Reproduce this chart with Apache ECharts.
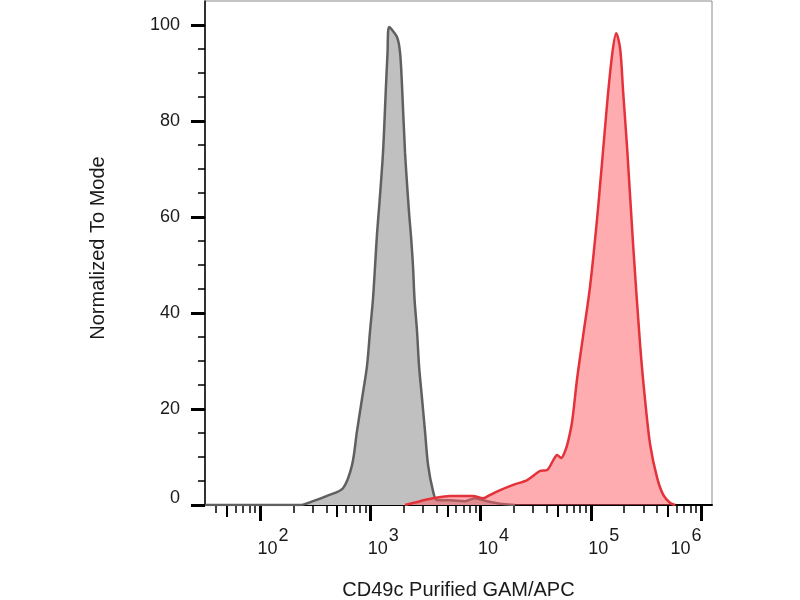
<!DOCTYPE html>
<html lang="en">
<head>
    <meta charset="UTF-8">
    <title>CD49c histogram</title>
    <script src="https://cdn.jsdelivr.net/npm/echarts@6/dist/echarts.min.js"></script>
    <style>
        html, body { margin: 0; padding: 0; background: #fff; }
        #chart { width: 800px; height: 600px; }
    </style>
</head>
<body>
<div id="chart"></div>
<script type="text/javascript">
    // x values are log10 of the fluorescence intensity
    var grayX = [1.5, 2.362, 2.480, 2.607, 2.752, 2.834, 2.879, 2.925, 2.970, 2.997, 3.024, 3.043, 3.061, 3.083, 3.115, 3.142, 3.156, 3.170, 3.242, 3.270, 3.288, 3.315, 3.351, 3.369, 3.387, 3.401, 3.424, 3.442, 3.469, 3.496, 3.524, 3.569, 3.605, 3.723, 3.859, 3.950, 4.059, 4.204, 4.313];
    var grayY = [0, 0, 0.8, 1.9, 3.5, 8.3, 15.4, 22.2, 29.0, 36.1, 42.9, 49.8, 56.6, 63.0, 73.4, 87.3, 94.2, 99.6, 97.5, 94.2, 87.1, 73.4, 61.0, 56.0, 49.8, 42.9, 36.1, 29.0, 22.2, 15.4, 8.3, 2.9, 1.0, 1.0, 0.8, 1.4, 0.8, 0.2, 0];

    var redX = [3.315, 3.451, 3.569, 3.723, 3.932, 4.023, 4.087, 4.178, 4.296, 4.423, 4.541, 4.604, 4.659, 4.695, 4.731, 4.767, 4.795, 4.831, 4.876, 4.931, 4.994, 5.067, 5.149, 5.195, 5.231, 5.267, 5.294, 5.331, 5.385, 5.449, 5.494, 5.540, 5.603, 5.658, 5.721, 5.767];
    var redY = [0, 0.8, 1.4, 1.9, 1.9, 1.4, 2.1, 3.1, 4.2, 5.2, 7.1, 7.3, 9.3, 10.4, 9.8, 11.2, 13.3, 17.4, 26.3, 35.3, 45.6, 62.0, 83.8, 94.0, 98.3, 95.0, 86.0, 74.0, 54.0, 33.0, 21.6, 12.4, 5.6, 2.1, 0.4, 0];

    var decades = [2, 3, 4, 5, 6];
    var yMajor = [0, 20, 40, 60, 80, 100];
    var yMinor = [5, 10, 15, 25, 30, 35, 45, 50, 55, 65, 70, 75, 85, 90, 95];

    // log tick positions for k * 10^n
    var xMid = [];
    var xMinor = [];
    for (var n = 1; n <= 5; n++) {
        [2, 3, 4, 6, 7, 8, 9].forEach(function (k) {
            var v = Math.log10(k * Math.pow(10, n));
            if (v > 1.5 && v < 6.1) xMinor.push(v);
        });
        var m = Math.log10(5 * Math.pow(10, n));
        if (m > 1.5 && m < 6.1) xMid.push(m);
    }

    function pairs(xs, ys) {
        return xs.map(function (x, i) { return [x, ys[i]]; });
    }

    var font = 'Arial, "Liberation Sans", sans-serif';
    var ink = '#1a1a1a';
    var xMin = 1.5, xMax = 6.1;

    function tickAxis(values, len, width) {
        return {
            type: 'value', min: xMin, max: xMax, position: 'bottom',
            axisLine: { show: false },
            splitLine: { show: false },
            axisLabel: { show: false },
            axisTick: { show: true, customValues: values, length: len, lineStyle: { color: '#000', width: width } }
        };
    }

    var myChart = echarts.init(document.getElementById('chart'));

    myChart.setOption({
        backgroundColor: '#fff',
        animation: false,
        grid: {
            left: 205, right: 88, top: 1, bottom: 95,
            outerBoundsMode: 'none',
            containLabel: false,
            show: true, borderColor: '#8a8a8a', borderWidth: 1
        },
        xAxis: [
            {
                type: 'value', min: xMin, max: xMax, position: 'bottom',
                name: 'CD49c Purified GAM/APC',
                nameLocation: 'middle',
                nameGap: 75,
                nameTextStyle: { fontFamily: font, fontSize: 20, color: ink },
                axisLine: { show: true, lineStyle: { color: '#000', width: 2 } },
                splitLine: { show: false },
                axisTick: { show: true, customValues: decades, length: 16, lineStyle: { color: '#000', width: 3 } },
                axisLabel: {
                    customValues: decades,
                    margin: 22,
                    formatter: function (v) {
                        var p = Math.round(v);
                        if (p === 6) return '{e|10}{t|' + p + '}';
                        return '{a|10}{s|' + p + '}';
                    },
                    rich: {
                        a: { fontFamily: font, fontSize: 18, color: ink, lineHeight: 20, padding: [25, 0, 0, 26] },
                        s: { fontFamily: font, fontSize: 18, color: ink, lineHeight: 20, verticalAlign: 'top', padding: [0, 0, 0, 1] },
                        e: { fontFamily: font, fontSize: 18, color: ink, lineHeight: 20, padding: [25, 0, 0, 0] },
                        t: { fontFamily: font, fontSize: 18, color: ink, lineHeight: 20, verticalAlign: 'top', padding: [0, 30, 0, 1] }
                    }
                }
            },
            tickAxis(xMid, 12, 2),
            tickAxis(xMinor, 8, 1.5)
        ],
        yAxis: [
            {
                type: 'value', min: 0, max: 105,
                name: 'Normalized To Mode',
                nameLocation: 'middle',
                nameGap: 97,
                nameTextStyle: { fontFamily: font, fontSize: 20, color: ink, padding: [0, 0, 0, 10] },
                axisLine: { show: true, lineStyle: { color: '#000', width: 1.5 } },
                splitLine: { show: false },
                axisTick: { show: true, customValues: yMajor, length: 14, lineStyle: { color: '#000', width: 3 } },
                axisLabel: {
                    customValues: yMajor,
                    margin: 25,
                    fontFamily: font, fontSize: 18, color: ink,
                    formatter: function (v) {
                        return v === 0 ? '{z|0}' : String(v);
                    },
                    rich: {
                        z: { fontFamily: font, fontSize: 18, color: ink, padding: [0, 0, 14, 0] }
                    }
                }
            },
            {
                type: 'value', min: 0, max: 105, position: 'left',
                axisLine: { show: false },
                splitLine: { show: false },
                axisLabel: { show: false },
                axisTick: { show: true, customValues: yMinor, length: 7, lineStyle: { color: '#000', width: 1.5 } }
            }
        ],
        series: [
            {
                name: 'Isotype',
                type: 'line',
                data: pairs(grayX, grayY),
                smooth: 0.3,
                symbol: 'none',
                z: 2,
                lineStyle: { color: '#606060', width: 2.5 },
                areaStyle: { color: '#c0c0c0', opacity: 1 }
            },
            {
                name: 'CD49c',
                type: 'line',
                data: pairs(redX, redY),
                smooth: 0.3,
                symbol: 'none',
                z: 3,
                lineStyle: { color: '#e4323a', width: 2.5 },
                areaStyle: { color: 'rgba(255, 90, 100, 0.5)', opacity: 1 }
            }
        ]
    });
</script>
</body>
</html>
